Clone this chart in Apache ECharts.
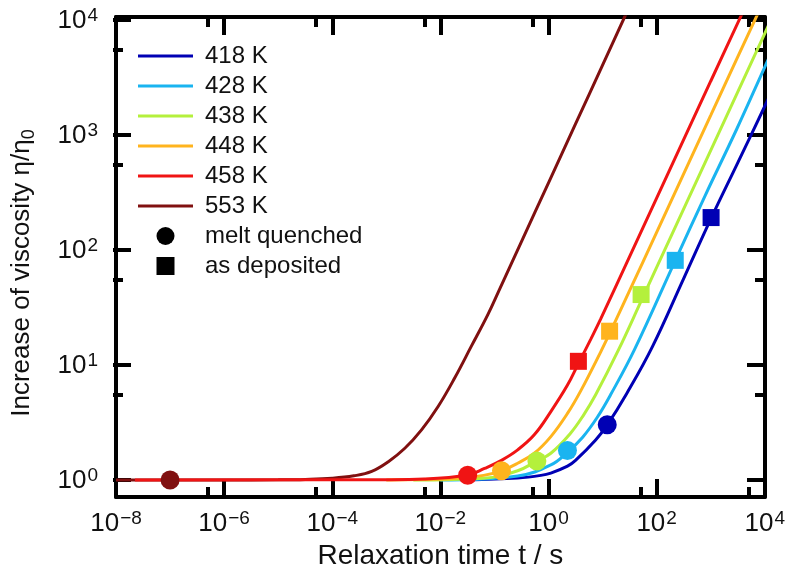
<!DOCTYPE html>
<html><head><meta charset="utf-8">
<script src="https://cdn.jsdelivr.net/npm/echarts@6/dist/echarts.min.js"></script>
<style>html,body{margin:0;padding:0;background:#fff}#c{width:788px;height:580px}</style>
</head><body><div id="c"></div>
<script>
// ---- data ----
const temps = ['418 K', '428 K', '438 K', '448 K', '458 K', '553 K'];
const markerNames = ['melt quenched', 'as deposited'];
// curves: [relaxation time t (s), eta/eta0]
const curve418 = [[0.0316,1],[0.269,1.04],[0.723,1.096],[1.104,1.148],[2.244,1.318],[3.162,1.479],[7.447,2.218],[12.22,2.992],[28.2,5.623],[83.2,14.13],[316,55],[1016,182],[3162,549.5],[10000,1694],[15850,2692]];
const curve428 = [[0.01,1],[0.269,1.084],[1.104,1.349],[2.244,1.738],[4.285,2.344],[7.943,3.467],[14.06,5.445],[38.9,13.37],[220.8,78.7],[794,288],[3020,1072],[10000,3690],[15850,5890]];
const curve438 = [[3.16e-3,1],[0.0631,1.035],[0.269,1.202],[0.611,1.462],[1.104,1.702],[2.512,2.512],[4.477,3.656],[7.447,5.445],[20.0,13.49],[51.6,35.1],[199.5,138],[631,442],[1995,1413],[6310,4519],[14130,10230]];
const curve448 = [[1e-3,1],[0.0158,1.023],[0.0631,1.096],[0.137,1.205],[0.269,1.396],[0.545,1.702],[1.104,2.371],[2.244,3.758],[3.945,5.888],[9.20,12.74],[13.46,18.41],[31.6,43.2],[100,138],[316,442],[1000,1413],[3162,4519],[7129,10230],[11220,16220]];
const curve458 = [[2.24e-8,1],[1e-3,1.007],[5e-3,1.019],[0.0324,1.104],[0.0655,1.259],[0.135,1.479],[0.269,1.82],[0.545,2.455],[1.104,3.90],[2.244,6.61],[3.516,10.0],[6.03,16.4],[9.20,24.5],[31.6,85.1],[100,272],[316,871],[1000,2786],[3733,10470],[5623,15850]];
const curve553 = [[1e-8,1],[1e-6,1],[1e-5,1.004],[3.16e-5,1.012],[1e-4,1.035],[2.51e-4,1.086],[5.37e-4,1.186],[1.09e-3,1.439],[2.20e-3,1.879],[4.48e-3,2.710],[9.08e-3,4.315],[0.01837,7.603],[0.03724,14.26],[0.07551,26.85],[0.1236,44.16],[0.3162,114.8],[1,369.8],[3.162,1191],[10,3846],[26.55,10400],[39.8,15700]];
// markers, same order as temps
const meltQuenched = [[12.2,3.0],[2.24,1.8],[0.61,1.46],[0.135,1.2],[0.032,1.1],[1e-7,1.0]];
const asDeposited = [[1017,185],[221,79],[51.6,40],[13.5,19.3],[3.57,10.6]];
const xTickExponents = [-8,-6,-4,-2,0,2,4];
const yTickExponents = [0,1,2,3,4];

// ---- styles ----
const colors = ['#0000b4','#1ab4f0','#b4f03c','#ffb41e','#f01414','#801010'];
const curves = [curve418, curve428, curve438, curve448, curve458, curve553];
const FONT = 'Liberation Sans, Arial, Helvetica, sans-serif';
const INK = '#111';

function sup(e) { return e < 0 ? '\u2212' + (-e) : String(e); }
function powLabel(v) {
  const e = Math.round(Math.log10(v));
  if (Math.abs(Math.log10(v) - e) > 1e-6) return '';
  return '{b|10}{s|' + sup(e) + '}';
}
const richLab = {
  b: {fontSize: 26, fontFamily: FONT, color: INK, lineHeight: 28, padding: [8,0,0,0], verticalAlign: 'bottom'},
  s: {fontSize: 19, fontFamily: FONT, color: INK, lineHeight: 20, verticalAlign: 'top', padding: [0,0,0,1]}
};
const axisLineS = {show: true, lineStyle: {color: '#000', width: 4}};
const majorTick = {show: true, inside: true, length: 18, lineStyle: {color: '#000', width: 4}};
const minorTick = {show: true, splitNumber: 2, length: 10, lineStyle: {color: '#000', width: 4}};

const series = [];
// draw order: 553 first, then 418..458 (458 on top)
[5,0,1,2,3,4].forEach(i => {
  series.push({
    name: temps[i], type: 'line', xAxisIndex: 0, yAxisIndex: 0,
    data: curves[i], symbol: 'none', smooth: 0.4,
    lineStyle: {color: colors[i], width: 3}, itemStyle: {color: colors[i]},
    clip: true, animation: false, z: 2
  });
});
series.push({
  name: markerNames[0], type: 'scatter', xAxisIndex: 0, yAxisIndex: 0,
  symbol: 'circle', symbolSize: 19, itemStyle: {color: '#000', opacity: 1}, z: 5,
  data: meltQuenched.map((p, i) => ({value: p, itemStyle: {color: colors[i], opacity: 1}})),
  animation: false
});
series.push({
  name: markerNames[1], type: 'scatter', xAxisIndex: 0, yAxisIndex: 0,
  symbol: 'rect', symbolSize: 17, itemStyle: {color: '#000', opacity: 1}, z: 5,
  data: asDeposited.map((p, i) => ({value: p, itemStyle: {color: colors[i], opacity: 1}})),
  animation: false
});

const xMin = Math.pow(10, xTickExponents[0]);
const xMax = Math.pow(10, xTickExponents[xTickExponents.length - 1]);
const yMin = Math.pow(10, yTickExponents[0]);
const yMax = Math.pow(10, yTickExponents[yTickExponents.length - 1]);

const lineIcon = 'path://M0,0L55,0L55,3L0,3Z';
const legendData = temps.map(n => ({name: n, icon: lineIcon}))
  .concat([{name: markerNames[0], icon: 'circle'}, {name: markerNames[1], icon: 'path://M0,0L1,0L1,1L0,1Z'}]);

const option = {
  backgroundColor: '#fff',
  animation: false,
  grid: [
    {left: 113, right: 23, top: 17, bottom: 83},
    {left: 113, right: 23, top: 17, bottom: 100}
  ],
  legend: {
    orient: 'vertical', left: 133, top: 39, itemWidth: 55, itemHeight: 18, itemGap: 6,
    selectedMode: false,
    data: legendData,
    textStyle: {fontSize: 24, fontFamily: FONT, color: INK, padding: [0,0,0,7]}
  },
  xAxis: [
    {type: 'log', gridIndex: 0, position: 'bottom', min: xMin, max: xMax, interval: 2,
     axisLine: axisLineS, axisTick: majorTick, minorTick: minorTick, splitLine: {show: false}, minorSplitLine: {show: false},
     axisLabel: {formatter: powLabel, rich: richLab, margin: 12, showMinLabel: true, showMaxLabel: true},
     name: 'Relaxation time t / s', nameLocation: 'middle', nameGap: 44,
     nameTextStyle: {fontSize: 28, fontFamily: FONT, color: INK}},
    {type: 'log', gridIndex: 0, position: 'top', min: xMin, max: xMax, interval: 2,
     axisLine: axisLineS, axisTick: majorTick, minorTick: minorTick, splitLine: {show: false},
     axisLabel: {show: false}},
    {type: 'log', gridIndex: 1, min: xMin, max: xMax, show: false}
  ],
  yAxis: [
    {type: 'log', gridIndex: 0, position: 'left', min: Math.pow(10, -0.1469), max: yMax,
     axisLine: axisLineS, axisTick: {show: false}, axisLabel: {show: false}, splitLine: {show: false},
     name: '{a|Increase of viscosity \u03b7/\u03b7}{c|0}', nameLocation: 'middle', nameGap: 78,
     nameTextStyle: {padding: [0, 32, 0, 0], rich: {
       a: {fontSize: 26, fontFamily: FONT, color: INK, lineHeight: 32},
       c: {fontSize: 18, fontFamily: FONT, color: INK, lineHeight: 32, padding: [12,0,0,0], verticalAlign: 'bottom'}
     }}},
    {type: 'log', gridIndex: 0, position: 'right', min: Math.pow(10, -0.1469), max: yMax,
     axisLine: axisLineS, axisTick: {show: false}, axisLabel: {show: false}, splitLine: {show: false}},
    {type: 'log', gridIndex: 1, position: 'left', min: yMin, max: yMax, interval: 1,
     axisLine: {show: false}, axisTick: majorTick, minorTick: minorTick, splitLine: {show: false},
     axisLabel: {formatter: powLabel, rich: richLab, margin: 15, showMinLabel: true, showMaxLabel: true}},
    {type: 'log', gridIndex: 1, position: 'right', min: yMin, max: yMax, interval: 1,
     axisLine: {show: false}, axisTick: majorTick, minorTick: minorTick, splitLine: {show: false},
     axisLabel: {show: false}}
  ],
  series: series
};
const chart = echarts.init(document.getElementById('c'), null, {renderer: 'canvas'});
chart.setOption(option);
</script>
</body></html>
